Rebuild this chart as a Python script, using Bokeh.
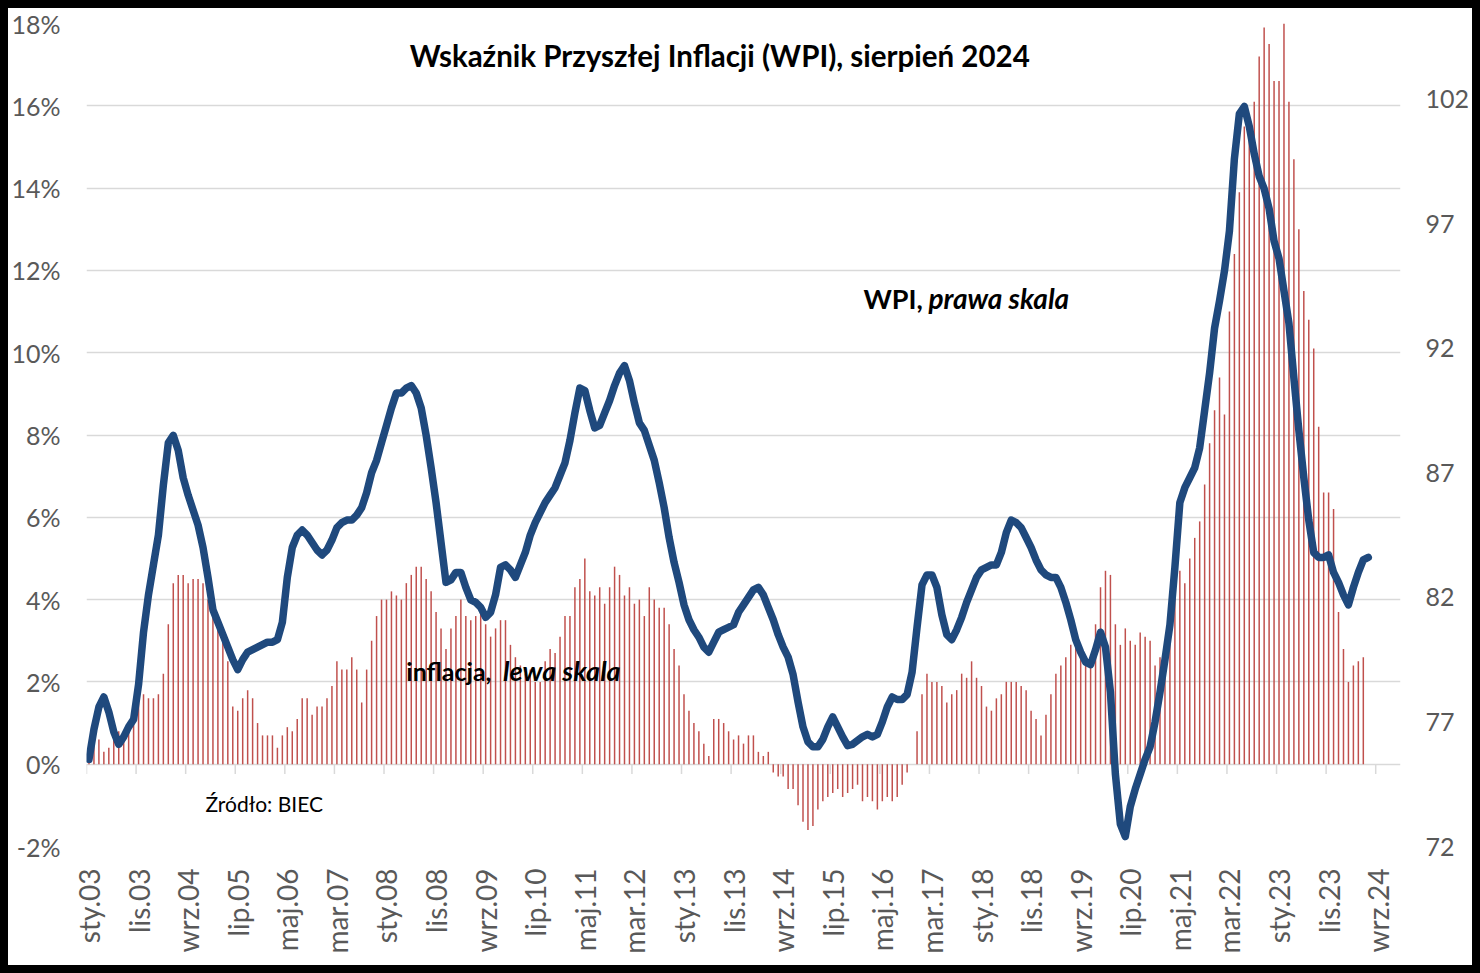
import math
from bokeh.plotting import figure
from bokeh.models import Range1d, LinearAxis, FixedTicker, PrintfTickFormatter, Label
from bokeh.embed import file_html
from bokeh.resources import INLINE

# Inflation (CPI y/y, %), monthly from Jan 2003 to Jun 2024 - left scale
inflation = [
    0.5, 0.5, 0.6, 0.3, 0.4, 0.8, 0.8, 0.7, 0.9, 1.3, 1.6, 1.7,
    1.6, 1.6, 1.7, 2.2, 3.4, 4.4, 4.6, 4.6, 4.4, 4.5, 4.5, 4.4,
    4.0, 3.6, 3.4, 3.0, 2.5, 1.4, 1.3, 1.6, 1.8, 1.6, 1.0, 0.7,
    0.7, 0.7, 0.4, 0.7, 0.9, 0.8, 1.1, 1.6, 1.6, 1.2, 1.4, 1.4,
    1.6, 1.9, 2.5, 2.3, 2.3, 2.6, 2.3, 1.5, 2.3, 3.0, 3.6, 4.0,
    4.0, 4.2, 4.1, 4.0, 4.4, 4.6, 4.8, 4.8, 4.5, 4.2, 3.7, 3.3,
    2.8, 3.3, 3.6, 4.0, 3.6, 3.5, 3.6, 3.7, 3.4, 3.1, 3.3, 3.5,
    3.5, 2.9, 2.6, 2.4, 2.2, 2.3, 2.0, 2.0, 2.5, 2.8, 2.7, 3.1,
    3.6, 3.6, 4.3, 4.5, 5.0, 4.2, 4.1, 4.3, 3.9, 4.3, 4.8, 4.6,
    4.1, 4.3, 3.9, 4.0, 3.6, 4.3, 4.0, 3.8, 3.8, 3.4, 2.8, 2.4,
    1.7, 1.3, 1.0, 0.8, 0.5, 0.2, 1.1, 1.1, 1.0, 0.8, 0.6, 0.7,
    0.5, 0.7, 0.7, 0.3, 0.2, 0.3, -0.2, -0.3, -0.3, -0.6, -0.6, -1.0,
    -1.4, -1.6, -1.5, -1.1, -0.9, -0.8, -0.7, -0.6, -0.8, -0.7, -0.6, -0.5,
    -0.9, -0.8, -0.9, -1.1, -0.9, -0.8, -0.9, -0.8, -0.5, -0.2, 0.0, 0.8,
    1.7, 2.2, 2.0, 2.0, 1.9, 1.5, 1.7, 1.8, 2.2, 2.1, 2.5, 2.1,
    1.9, 1.4, 1.3, 1.6, 1.7, 2.0, 2.0, 2.0, 1.9, 1.8, 1.3, 1.1,
    0.7, 1.2, 1.7, 2.2, 2.4, 2.6, 2.9, 2.9, 2.6, 2.5, 2.6, 3.4,
    4.3, 4.7, 4.6, 3.4, 2.9, 3.3, 3.0, 2.9, 3.2, 3.1, 3.0, 2.4,
    2.6, 2.4, 3.2, 4.3, 4.7, 4.4, 5.0, 5.5, 5.9, 6.8, 7.8, 8.6,
    9.4, 8.5, 11.0, 12.4, 13.9, 15.5, 15.6, 16.1, 17.2, 17.9, 17.5, 16.6,
    16.6, 18.4, 16.1, 14.7, 13.0, 11.5, 10.8, 10.1, 8.2, 6.6, 6.6, 6.2,
    3.7, 2.8, 2.0, 2.4, 2.5, 2.6,
]

# WPI index, monthly from Jan 2003 to Jul 2024 - right scale
wpi = [
    75.5, 76.7, 77.6, 78.0, 77.4, 76.6, 76.1, 76.4, 76.8, 77.1, 78.5, 80.6,
    82.1, 83.3, 84.5, 86.5, 88.2, 88.5, 87.9, 86.8, 86.1, 85.5, 84.9, 84.0,
    82.8, 81.5, 81.0, 80.5, 80.0, 79.5, 79.1, 79.5, 79.8, 79.9, 80.0, 80.1,
    80.2, 80.2, 80.3, 81.0, 82.8, 84.0, 84.5, 84.7, 84.5, 84.2, 83.9, 83.7,
    83.9, 84.3, 84.8, 85.0, 85.1, 85.1, 85.3, 85.6, 86.2, 87.0, 87.5, 88.2,
    88.9, 89.6, 90.2, 90.2, 90.4, 90.5, 90.2, 89.6, 88.5, 87.2, 85.8, 84.2,
    82.6, 82.7, 83.0, 83.0, 82.4, 81.9, 81.8, 81.6, 81.2, 81.4, 82.1, 83.2,
    83.3, 83.1, 82.8, 83.3, 83.8, 84.5, 85.0, 85.4, 85.8, 86.1, 86.4, 86.9,
    87.4, 88.3, 89.4, 90.4, 90.3, 89.5, 88.8, 88.9, 89.4, 89.9, 90.5, 91.0,
    91.3, 90.7, 89.8, 89.0, 88.7, 88.1, 87.5, 86.6, 85.6, 84.4, 83.4, 82.6,
    81.7, 81.1, 80.7, 80.4, 80.0, 79.8, 80.2, 80.6, 80.7, 80.8, 80.9, 81.4,
    81.7, 82.0, 82.3, 82.4, 82.1, 81.6, 81.1, 80.5, 80.0, 79.6, 78.9, 77.8,
    76.8, 76.2, 76.0, 76.0, 76.3, 76.8, 77.2, 76.8, 76.4, 76.05, 76.1, 76.25,
    76.4, 76.5, 76.4, 76.5, 77.0, 77.6, 78.0, 77.9, 77.9, 78.1, 79.0, 80.8,
    82.5, 82.9, 82.9, 82.4, 81.3, 80.5, 80.3, 80.7, 81.2, 81.8, 82.3, 82.8,
    83.1, 83.2, 83.3, 83.3, 83.8, 84.6, 85.1, 85.0, 84.8, 84.4, 84.0, 83.5,
    83.1, 82.9, 82.8, 82.8, 82.4, 81.8, 81.1, 80.3, 79.8, 79.4, 79.3, 79.9,
    80.6, 80.0, 78.2, 74.9, 72.9, 72.4, 73.6, 74.3, 74.9, 75.5, 76.0, 77.0,
    78.2, 79.5, 80.9, 83.2, 85.8, 86.4, 86.8, 87.2, 88.0, 89.5, 91.0, 92.8,
    93.9, 95.1, 96.7, 99.6, 101.4, 101.7, 100.9, 99.8, 98.9, 98.4, 97.6, 96.3,
    95.6, 94.3, 93.0, 90.8, 88.7, 86.8, 85.1, 83.8, 83.6, 83.6, 83.7, 83.0,
    82.6, 82.1, 81.7, 82.4, 83.0, 83.5, 83.6,
]

# Category axis: one category per month, labelled every 10 months
n_categories = 265
tick_idx = list(range(0, 261, 10))
tick_labels = [
    "sty.03", "lis.03", "wrz.04", "lip.05", "maj.06", "mar.07", "sty.08",
    "lis.08", "wrz.09", "lip.10", "maj.11", "mar.12", "sty.13", "lis.13",
    "wrz.14", "lip.15", "maj.16", "mar.17", "sty.18", "lis.18", "wrz.19",
    "lip.20", "maj.21", "mar.22", "sty.23", "lis.23", "wrz.24",
]
left_ticks = list(range(-2, 19, 2))
right_ticks = [72, 77, 82, 87, 92, 97, 102]

LABEL_FONT = "Lato"
AXIS_COLOR = "#595959"
GRID_COLOR = "#D9D9D9"

p = figure(
    width=1464, height=957,
    output_backend="svg", toolbar_location=None,
    x_range=Range1d(-0.5, n_categories - 0.5),
    y_range=Range1d(-2, 18),
    min_border_left=77, min_border_right=72,
    min_border_top=15, min_border_bottom=119,
)
p.margin = (8, 8, 8, 8)
p.styles = {"outline": "8px solid #000000"}
p.extra_y_ranges = {"wpi": Range1d(72, 105.03)}
p.outline_line_color = None
p.background_fill_color = "white"
p.border_fill_color = "white"

# grids
p.xgrid.visible = False
p.ygrid.ticker = FixedTicker(ticks=left_ticks)
p.ygrid.grid_line_color = GRID_COLOR
p.ygrid.grid_line_width = 1.5


def style_axis(ax, size, standoff):
    ax.axis_line_color = None
    ax.major_tick_line_color = None
    ax.minor_tick_line_color = None
    ax.major_tick_out = 0
    ax.major_tick_in = 0
    ax.minor_tick_out = 0
    ax.minor_tick_in = 0
    ax.major_label_standoff = standoff
    ax.major_label_text_font = LABEL_FONT
    ax.major_label_text_font_size = size
    ax.major_label_text_color = AXIS_COLOR


# left axis
ya = p.yaxis[0]
ya.ticker = FixedTicker(ticks=left_ticks)
ya.formatter = PrintfTickFormatter(format="%d%%")
style_axis(ya, "25px", 26)

# bottom axis (labels only)
xa = p.xaxis[0]
xa.ticker = FixedTicker(ticks=tick_idx)
xa.major_label_overrides = {i: lab for i, lab in zip(tick_idx, tick_labels)}
xa.major_label_orientation = math.pi / 2
style_axis(xa, "28px", 22)

# right axis
ra = LinearAxis(y_range_name="wpi", ticker=FixedTicker(ticks=right_ticks))
style_axis(ra, "25px", 25)
p.add_layout(ra, "right")

# inflation bars
months_inf = list(range(len(inflation)))
p.vbar(x=months_inf, top=inflation, bottom=0, width=0.3,
       fill_color="#C0504D", line_color=None)

# category tick marks on the 0% line
tick_pos = [t - 0.5 for t in tick_idx]
p.segment(x0=tick_pos, y0=[0] * len(tick_pos), x1=tick_pos, y1=[-0.24] * len(tick_pos),
          line_color=GRID_COLOR, line_width=1.5)

# WPI line
months_wpi = list(range(len(wpi)))
p.line(x=months_wpi, y=wpi, y_range_name="wpi", line_color="#1F497D",
       line_width=7.5, line_join="round", line_cap="round")


def add_text(x, y, text, size, style="bold", align="left"):
    p.add_layout(Label(x=x, y=y, text=text, text_font=LABEL_FONT,
                       text_font_style=style, text_font_size=size,
                       text_align=align, text_baseline="alphabetic",
                       text_color="black"))


add_text(127.2, 17.22, "Wskaźnik Przyszłej Inflacji (WPI), sierpień 2024", "29.5px", align="center")
add_text(156.2, 11.32, "WPI,", "27px")
add_text(169.3, 11.32, "prawa skala", "28px", style="bold italic")
add_text(64.0, 2.27, "inflacja,", "25px")
add_text(83.5, 2.27, "lewa skala", "27px", style="bold italic")
add_text(23.5, -0.95, "Źródło: BIEC", "21px", style="normal")

open("out.html", "w").write(file_html(p, INLINE))
